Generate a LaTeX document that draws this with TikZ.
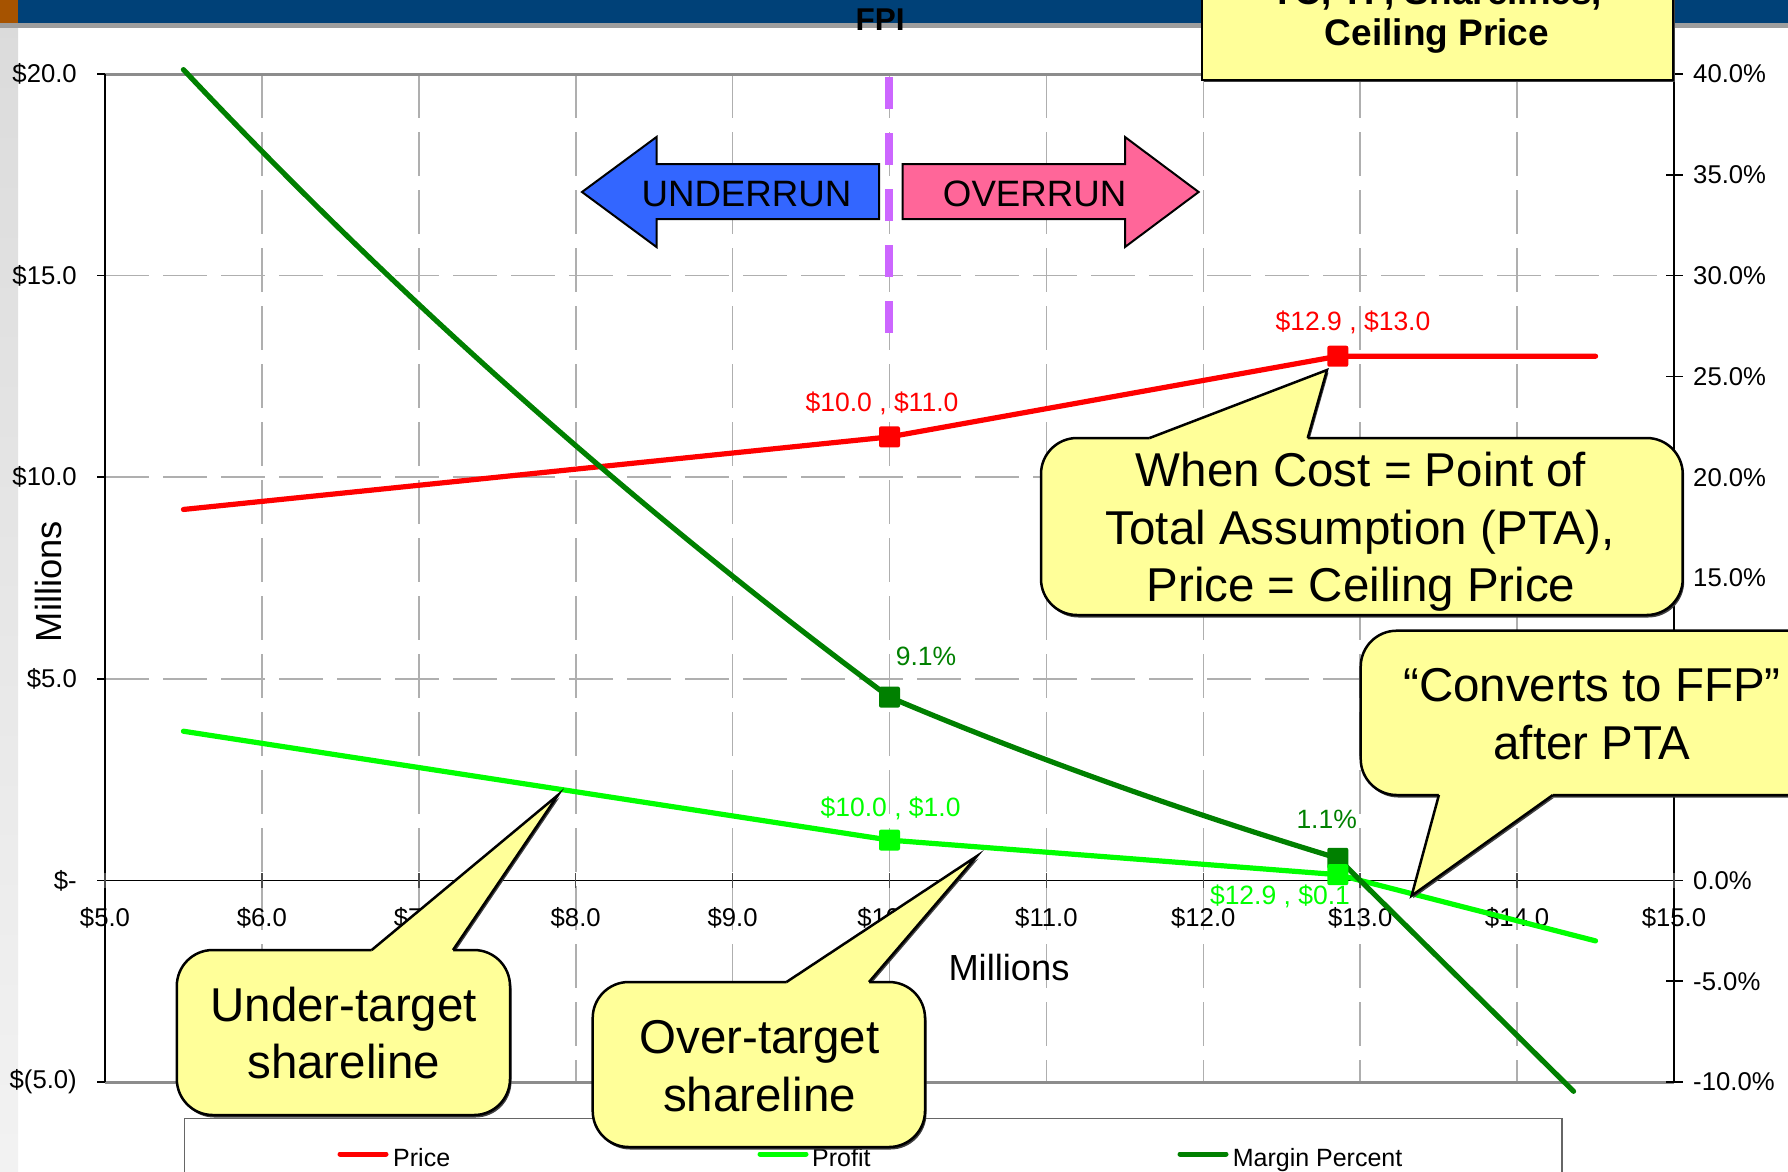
\documentclass[tikz,border=0pt]{standalone}
\usepackage{fontspec}
\setmainfont{Liberation Sans}
\definecolor{bandblue}{RGB}{0,65,120}
\definecolor{bandorange}{RGB}{166,83,0}
\definecolor{cyellow}{RGB}{255,255,153}
\definecolor{arrblue}{RGB}{51,102,255}
\definecolor{arrpink}{RGB}{255,102,153}
\definecolor{fpiviolet}{RGB}{204,102,255}
\definecolor{mgreen}{RGB}{0,128,0}
\definecolor{pgreen}{RGB}{0,255,0}
\definecolor{gridgray}{RGB}{175,175,175}
\definecolor{framegray}{RGB}{140,140,140}
\newcommand{\calltop}[8]{%
  \fill[black!75,rounded corners=36pt] (#1+1.5,#2+2.5) rectangle (#3+1.5,#4+2.5);
  \fill[black!75] (#5+1.5,#2+2.5) -- (#7+1.5,#8+2.5) -- (#6+1.5,#2+2.5) -- cycle;
  \draw[cbox,rounded corners=36pt] (#1,#2) rectangle (#3,#4);
  \fill[cyellow] (#5,#2+4) -- (#5,#2) -- (#7,#8) -- (#6,#2) -- (#6,#2+4) -- cycle;
  \draw[cedge] (#5,#2) -- (#7,#8) -- (#6,#2);}
\newcommand{\callbot}[8]{%
  \fill[black!75,rounded corners=36pt] (#1+1.5,#2+2.5) rectangle (#3+1.5,#4+2.5);
  \fill[black!75] (#5+1.5,#4+2.5) -- (#7+1.5,#8+2.5) -- (#6+1.5,#4+2.5) -- cycle;
  \draw[cbox,rounded corners=36pt] (#1,#2) rectangle (#3,#4);
  \fill[cyellow] (#5,#4-4) -- (#5,#4) -- (#7,#8) -- (#6,#4) -- (#6,#4-4) -- cycle;
  \draw[cedge] (#5,#4) -- (#7,#8) -- (#6,#4);}
\begin{document}
\begin{tikzpicture}[x=1pt,y=-1pt,
  declare function={cX(\x)=105+(\x-5)*156.9; cY(\x)=74+(20-\x)*40.32; cR(\x)=74+(40-\x)*20.16;
    prof(\x)=min(max(7-0.6*\x,4-0.3*\x),13-\x); marg(\x)=100*prof(\x)/(\x+prof(\x));},
  axlbl/.style={font=\fontsize{25.7pt}{30pt}\selectfont, inner sep=0pt},
  dlbl/.style={font=\fontsize{26.5pt}{30pt}\selectfont, inner sep=0pt, anchor=base},
  ctxt/.style={font=\fontsize{47.5pt}{57pt}\selectfont, inner sep=0pt, anchor=base},
  arrtxt/.style={font=\fontsize{36.7pt}{40pt}\selectfont, inner sep=0pt, anchor=base},
  cbox/.style={fill=cyellow, draw=black, line width=2.5pt},
  cedge/.style={draw=black, line width=2.5pt, line join=miter},
  gridln/.style={draw=gridgray, line width=1.6pt, dash pattern=on 44pt off 14pt},
  series/.style={line width=5.2pt, line cap=round, line join=round},
  mk/.style={rectangle, minimum size=21pt, inner sep=0pt, rounded corners=2pt},
  legtxt/.style={font=\fontsize{25pt}{30pt}\selectfont, inner sep=0pt, anchor=base west}]
\clip (0,0) rectangle (1788,1171);
\fill[white] (0,0) rectangle (1788,1171);
% header band and left strip
\fill[bandblue] (0,0) rectangle (1788,23);
\fill[bandorange] (0,0) rectangle (18,23);
\fill[black!38] (0,23) rectangle (1788,28);
\shade[top color=black!14, bottom color=black!5] (0,28) rectangle (18,1171);
% grid
\foreach \v in {6,...,14} \draw[gridln] ({cX(\v)},74) -- ({cX(\v)},1082);
\foreach \v in {15,10,5} \draw[gridln] (105,{cY(\v)}) -- (1674,{cY(\v)});
% frame and axes
\draw[framegray, line width=3pt] (105,74) -- (1674,74);
\draw[framegray, line width=3pt] (105,1082) -- (1674,1082);
\draw[black, line width=2pt] (105,74) -- (105,1082);
\draw[black, line width=1.8pt] (1674,74) -- (1674,1082);
\draw[black, line width=1.5pt] (105,{cY(0)}) -- (1674,{cY(0)});
\foreach \v in {20,15,...,-5} \draw[black, line width=1.5pt] (97,{cY(\v)}) -- (105,{cY(\v)});
\foreach \p in {40,35,...,-10} \draw[black, line width=1.5pt] (1666,{cR(\p)}) -- (1683,{cR(\p)});
\foreach \v in {5,...,15} \draw[black!70, line width=1.5pt] ({cX(\v)},873) -- ({cX(\v)},888);
% axis labels
\foreach \v/\t in {20/\$20.0,15/\$15.0,10/\$10.0,5/\$5.0,0/\$-,-5/\$(5.0)}
  \node[axlbl, anchor=east] (yl\v) at (77,{cY(\v)}) {\t};
\foreach \v in {5,...,15}
  \node[axlbl, anchor=base] (xl\v) at ({cX(\v)},926.7) {\$\v.0};
\foreach \p in {40,35,30,25,20,15,0,-5,-10}
  \node[axlbl, anchor=west] (rl\p) at (1693,{cR(\p)}) {\p.0\%};
\node[font=\fontsize{36.3pt}{40pt}\selectfont, inner sep=0pt, anchor=base] (xtitle) at (1009,980) {Millions};
\node[font=\fontsize{36.3pt}{40pt}\selectfont, inner sep=0pt, rotate=90] (ytitle) at (49,581.5) {Millions};
% series
\coordinate (pr1) at ({cX(5.5)},{cY(9.2)});
\coordinate (pr2) at ({cX(10)},{cY(11)});
\coordinate (pr3) at ({cX(12.857143)},{cY(13)});
\coordinate (pr4) at ({cX(14.5)},{cY(13)});
\coordinate (pf1) at ({cX(5.5)},{cY(3.7)});
\coordinate (pf2) at ({cX(10)},{cY(1)});
\coordinate (pf3) at ({cX(12.857143)},{cY(0.142857)});
\coordinate (pf4) at ({cX(14.5)},{cY(-1.5)});
\draw[series, red] (pr1) -- (pr2) -- (pr3) -- (pr4);
\draw[series, pgreen] (pf1) -- (pf2) -- (pf3) -- (pf4);
\draw[series, mgreen] plot[domain=5.5:10, samples=60] ({cX(\x)},{cR(marg(\x))})
  -- plot[domain=10:12.857143, samples=40] ({cX(\x)},{cR(marg(\x))})
  -- plot[domain=12.857143:14.36, samples=20] ({cX(\x)},{cR(marg(\x))});
\node[mk, fill=red] (mpr2) at (pr2) {};
\node[mk, fill=red] (mpr3) at (pr3) {};
\node[mk, fill=mgreen] (mmg2) at ({cX(10)},{cR(9.0909)}) {};
\node[mk, fill=mgreen] (mmg3) at ({cX(12.857143)},{cR(1.0989)}) {};
\node[mk, fill=pgreen] (mpf2) at (pf2) {};
\node[mk, fill=pgreen] (mpf3) at (pf3) {};
% data labels
\node[dlbl, text=red] (lpr2) at (882,411.7) {\$10.0 ,\ \$11.0};
\node[dlbl, text=red] (lpr3) at (1353,330.5) {\$12.9 ,\ \$13.0};
\node[dlbl, text=mgreen] (lmg2) at (926,665) {9.1\%};
\node[dlbl, text=mgreen] (lmg3) at (1326.7,828.3) {1.1\%};
\node[dlbl, text=pgreen] (lpf2) at (890.6,816.7) {\$10.0 ,\ \$1.0};
\node[dlbl, text=pgreen] (lpf3) at (1280,904) {\$12.9 ,\ \$0.1};
% FPI line and arrows
\draw[fpiviolet, line width=7.7pt, dash pattern=on 32pt off 24pt] (889,77) -- (889,333);
\filldraw[fill=arrblue, draw=black, line width=2pt, line join=miter]
  (582,192) -- (656.5,137) -- (656.5,164) -- (879,164) -- (879,219) -- (656.5,219) -- (656.5,247) -- cycle;
\filldraw[fill=arrpink, draw=black, line width=2pt, line join=miter]
  (902.7,164) -- (1125,164) -- (1125,137) -- (1198.6,192) -- (1125,247) -- (1125,219) -- (902.7,219) -- cycle;
\node[arrtxt] (under) at (746.5,206) {UNDERRUN};
\node[arrtxt] (over) at (1034.7,206) {OVERRUN};
\node[font=\bfseries\fontsize{31.5pt}{36pt}\selectfont, inner sep=0pt, anchor=base] (fpi) at (880,30) {FPI};
% top-right box
\fill[black!75] (1203.5,-20) rectangle (1674.5,82);
\draw[cbox] (1202,-20) rectangle (1673,80);
\node[font=\bfseries\fontsize{37pt}{41pt}\selectfont, inner sep=0pt, anchor=base] (tb1) at (1437,4.7) {TC, TP, Sharelines,};
\node[font=\bfseries\fontsize{37pt}{41pt}\selectfont, inner sep=0pt, anchor=base] (tb2) at (1437,45.7) {Ceiling Price};
% legend
\draw[black!60, line width=1.2pt, fill=white] (184.7,1118.6) rectangle (1562,1200);
\draw[red, line width=5pt, line cap=round] (340,1154) -- (386,1154);
\node[legtxt] (lgp) at (393,1166) {Price};
\draw[pgreen, line width=5pt, line cap=round] (760,1154) -- (806,1154);
\node[legtxt] (lgf) at (812,1166) {Profit};
\draw[mgreen, line width=5pt, line cap=round] (1180,1154) -- (1226,1154);
\node[legtxt] (lgm) at (1232.6,1166) {Margin Percent};
% callouts
\calltop{1041}{438}{1682.7}{615}{1149.6}{1307.7}{1327}{370}
\node[ctxt] (cw1) at (1361,486.7) {When Cost = Point of};
\node[ctxt] (cw2) at (1360,544) {Total Assumption (PTA),};
\node[ctxt] (cw3) at (1361,601.7) {Price = Ceiling Price};
\callbot{1360.7}{630.7}{1850}{795}{1438.9}{1552.8}{1411.6}{895.7}
\node[ctxt] (cc1) at (1592,701.7) {“Converts to FFP”};
\node[ctxt] (cc2) at (1592,759.3) {after PTA};
\calltop{176.8}{950}{510}{1115}{371.7}{453}{558}{795}
\node[ctxt] (cu1) at (343.7,1021.7) {Under-target};
\node[ctxt] (cu2) at (343.7,1078) {shareline};
\calltop{592.7}{982}{925}{1147}{786.5}{869}{977}{856}
\node[ctxt] (co1) at (759.5,1053) {Over-target};
\node[ctxt] (co2) at (759.5,1111) {shareline};
\end{tikzpicture}
\end{document}
